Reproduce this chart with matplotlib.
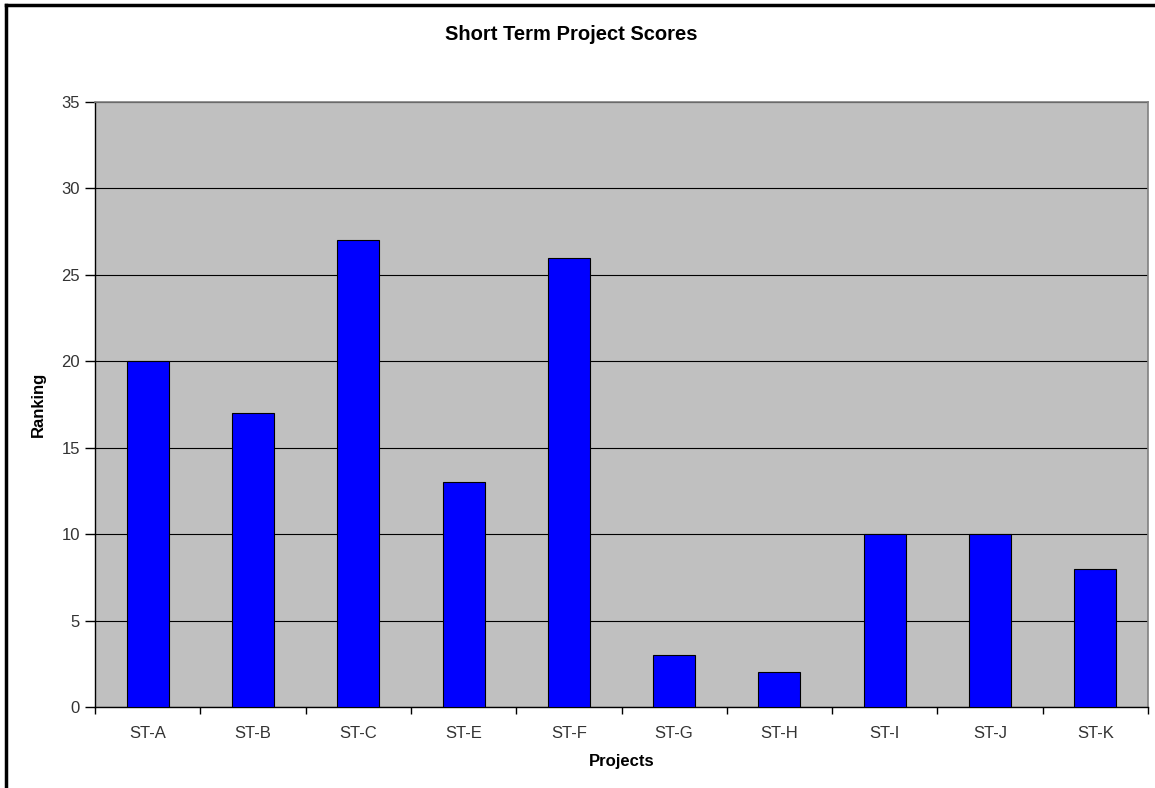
import matplotlib
matplotlib.use('Agg')
import matplotlib.pyplot as plt
from matplotlib.lines import Line2D

# Scores per short term project
projects = ['ST-A', 'ST-B', 'ST-C', 'ST-E', 'ST-F', 'ST-G', 'ST-H', 'ST-I', 'ST-J', 'ST-K']
scores = [20, 17, 27, 13, 26, 3, 2, 10, 10, 8]
y_ticks = [0, 5, 10, 15, 20, 25, 30, 35]

plt.rcParams['font.family'] = ['Liberation Sans', 'DejaVu Sans']

fig = plt.figure(figsize=(11.55, 7.88), dpi=100)
ax = fig.add_axes([0.0823, 0.1028, 0.9116, 0.7678])
ax.set_facecolor('#C0C0C0')

x = range(len(projects))
ax.bar(x, scores, width=0.4, color='#0000FF', edgecolor='black', linewidth=0.8, zorder=3)

ax.set_xlim(-0.5, len(projects) - 0.5)
ax.set_ylim(0, 35)
ax.set_yticks(y_ticks)
ax.yaxis.grid(True, color='black', linewidth=0.8, zorder=1)
ax.set_axisbelow(True)

# category labels centred, ticks at category boundaries
ax.set_xticks(list(x))
ax.set_xticklabels(projects)
ax.tick_params(axis='x', which='major', length=0, pad=14, labelsize=12, labelcolor='#333333')
ax.set_xticks([i - 0.5 for i in range(len(projects) + 1)], minor=True)
ax.tick_params(axis='x', which='minor', length=5, width=1, color='black', direction='out')
ax.tick_params(axis='y', length=7, width=1, color='black', labelsize=12, labelcolor='#333333', pad=4)

for side in ['top', 'right']:
    ax.spines[side].set_color('#808080')
    ax.spines[side].set_linewidth(1.2)
for side in ['left', 'bottom']:
    ax.spines[side].set_color('black')
    ax.spines[side].set_linewidth(1)

ax.set_xlabel('Projects', fontsize=12, fontweight='bold', labelpad=9)
ax.set_ylabel('Ranking', fontsize=12, fontweight='bold', labelpad=11)
fig.text(0.495, 0.956, 'Short Term Project Scores', ha='center', va='center',
         fontsize=14.5, fontweight='bold')

# chart frame (left and top edges)
fig.add_artist(Line2D([0.005, 0.005], [0, 0.994], transform=fig.transFigure, color='black', linewidth=2.5))
fig.add_artist(Line2D([0.005, 1.0], [0.994, 0.994], transform=fig.transFigure, color='black', linewidth=2.5))

fig.savefig('out.png', dpi=100)
